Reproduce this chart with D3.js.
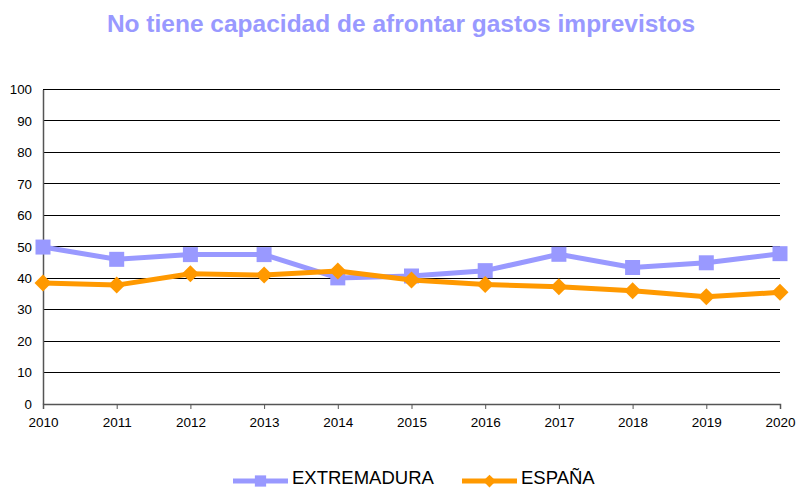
<!DOCTYPE html>
<html>
<head>
<meta charset="utf-8">
<script src="https://cdn.jsdelivr.net/npm/d3@7"></script>
<style>
  body { margin: 0; background: #fff; }
  svg { display: block; font-family: "Liberation Sans", Arial, sans-serif; }
</style>
</head>
<body>
<svg id="chart" width="811" height="488"></svg>
<script>
const years = [2010, 2011, 2012, 2013, 2014, 2015, 2016, 2017, 2018, 2019, 2020];
const extremadura = [49.9, 46.0, 47.5, 47.5, 40.1, 40.7, 42.4, 47.6, 43.4, 44.9, 47.8];
const espana = [38.5, 37.8, 41.4, 41.0, 42.3, 39.4, 38.0, 37.3, 36.0, 34.1, 35.5];
const yTicks = [0, 10, 20, 30, 40, 50, 60, 70, 80, 90, 100];

const svg = d3.select("#chart");
const x = d3.scaleLinear().domain([2010, 2020]).range([43, 780]);
const y = d3.scaleLinear().domain([0, 100]).range([404, 89.5]);

// title
svg.append("text")
  .attr("x", 401).attr("y", 32)
  .attr("text-anchor", "middle")
  .attr("font-size", 24.5).attr("font-weight", "bold")
  .attr("fill", "#9999ff")
  .text("No tiene capacidad de afrontar gastos imprevistos");

// gridlines
svg.append("g")
  .selectAll("line")
  .data(yTicks.filter((d) => d > 0))
  .join("line")
  .attr("x1", x(2010)).attr("x2", x(2020))
  .attr("y1", (d) => y(d)).attr("y2", (d) => y(d))
  .attr("stroke", "#000").attr("stroke-width", 1)
  .attr("shape-rendering", "crispEdges");

// y axis
const yAxis = svg.append("g")
  .attr("transform", `translate(${x(2010)},0)`)
  .call(d3.axisLeft(y).tickValues(yTicks).tickSize(0).tickPadding(11));
yAxis.select(".domain").attr("stroke", "#555").attr("stroke-width", 1.5);
yAxis.selectAll("text").attr("font-size", 13.3).attr("fill", "#000")
  .attr("font-family", "Liberation Sans, Arial, sans-serif");

// x axis
const xAxis = svg.append("g")
  .attr("transform", `translate(0,${y(0)})`)
  .call(d3.axisBottom(x).tickValues(years).tickFormat(d3.format("d")).tickSizeOuter(0).tickSize(5).tickPadding(8));
xAxis.select(".domain").attr("stroke", "#555").attr("stroke-width", 1.5);
xAxis.selectAll(".tick line").attr("stroke", "#555");
xAxis.selectAll("text").attr("font-size", 13.5).attr("fill", "#000")
  .attr("font-family", "Liberation Sans, Arial, sans-serif");

const line = d3.line().x((d, i) => x(years[i])).y((d) => y(d));

// marker shapes: square and equal-sided diamond
const square = (r) => `M${-r},${-r}H${r}V${r}H${-r}Z`;
const diamond = (r) => `M0,${-r}L${r},0L0,${r}L${-r},0Z`;

const series = [
  { name: "EXTREMADURA", values: extremadura, color: "#9999ff", shape: square, r: 7.5 },
  { name: "ESPAÑA", values: espana, color: "#ff9900", shape: diamond, r: 8.5 },
];

series.forEach((s) => {
  svg.append("path")
    .datum(s.values)
    .attr("d", line)
    .attr("fill", "none")
    .attr("stroke", s.color)
    .attr("stroke-width", 5)
    .attr("stroke-linejoin", "round");
  svg.append("g")
    .selectAll("path")
    .data(s.values)
    .join("path")
    .attr("transform", (d, i) => `translate(${x(years[i])},${y(d)})`)
    .attr("d", s.shape(s.r))
    .attr("fill", s.color);
});

// legend
const legendX = [233, 462];
series.forEach((s, i) => {
  const g = svg.append("g").attr("transform", `translate(${legendX[i]},481)`);
  g.append("line").attr("x1", 0).attr("x2", 55)
    .attr("stroke", s.color).attr("stroke-width", 5);
  g.append("path").attr("transform", "translate(27.5,0)")
    .attr("d", s.shape(s.r * 0.75))
    .attr("fill", s.color);
  g.append("text").attr("x", 59).attr("y", 3)
    .attr("font-size", 18.5).attr("fill", "#000")
    .text(s.name);
});
</script>
</body>
</html>
